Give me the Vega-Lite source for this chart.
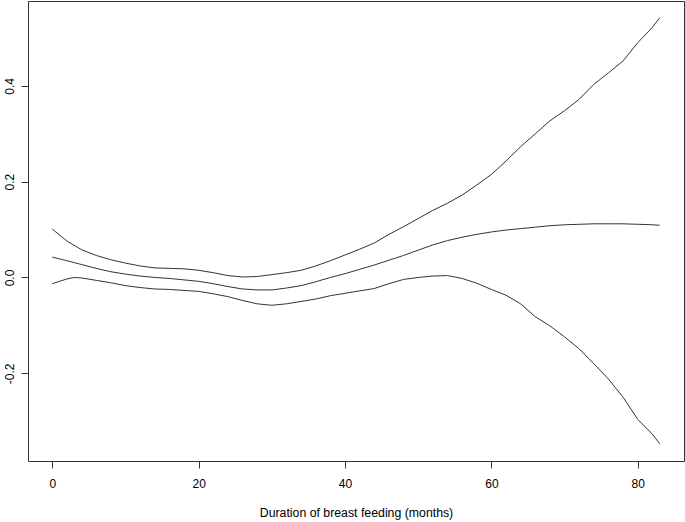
{
  "$schema": "https://vega.github.io/schema/vega-lite/v6.json",
  "width": 656,
  "height": 460,
  "autosize": "none",
  "padding": {"left": 28, "top": 1, "right": 1, "bottom": 61},
  "background": "white",
  "config": {
    "view": {"stroke": "#333", "strokeWidth": 1},
    "font": "Liberation Sans"
  },
  "datasets": {
    "upper": [
      {"month":0,"value":0.101},{"month":2,"value":0.076},{"month":4,"value":0.058},{"month":6,"value":0.046},
      {"month":8,"value":0.037},{"month":10,"value":0.030},{"month":12,"value":0.024},{"month":14,"value":0.020},
      {"month":16,"value":0.019},{"month":18,"value":0.018},{"month":20,"value":0.015},{"month":22,"value":0.010},
      {"month":24,"value":0.004},{"month":26,"value":0.001},{"month":28,"value":0.002},{"month":30,"value":0.006},
      {"month":32,"value":0.010},{"month":34,"value":0.015},{"month":36,"value":0.024},{"month":38,"value":0.035},
      {"month":40,"value":0.047},{"month":42,"value":0.059},{"month":44,"value":0.072},{"month":46,"value":0.090},
      {"month":48,"value":0.106},{"month":50,"value":0.123},{"month":52,"value":0.140},{"month":54,"value":0.155},
      {"month":56,"value":0.172},{"month":58,"value":0.193},{"month":60,"value":0.215},{"month":62,"value":0.243},
      {"month":64,"value":0.273},{"month":66,"value":0.300},{"month":68,"value":0.327},{"month":70,"value":0.348},
      {"month":72,"value":0.372},{"month":74,"value":0.403},{"month":76,"value":0.427},{"month":78,"value":0.452},
      {"month":80,"value":0.490},{"month":82,"value":0.522},{"month":83,"value":0.542}
    ],
    "middle": [
      {"month":0,"value":0.0425},{"month":2,"value":0.035},{"month":4,"value":0.027},{"month":6,"value":0.019},
      {"month":8,"value":0.012},{"month":10,"value":0.007},{"month":12,"value":0.003},{"month":14,"value":0.000},
      {"month":16,"value":-0.002},{"month":18,"value":-0.005},{"month":20,"value":-0.008},{"month":22,"value":-0.013},
      {"month":24,"value":-0.019},{"month":26,"value":-0.024},{"month":28,"value":-0.026},{"month":30,"value":-0.026},
      {"month":32,"value":-0.022},{"month":34,"value":-0.017},{"month":36,"value":-0.009},{"month":38,"value":0.000},
      {"month":40,"value":0.008},{"month":42,"value":0.017},{"month":44,"value":0.026},{"month":46,"value":0.036},
      {"month":48,"value":0.046},{"month":50,"value":0.057},{"month":52,"value":0.068},{"month":54,"value":0.077},
      {"month":56,"value":0.084},{"month":58,"value":0.090},{"month":60,"value":0.095},{"month":62,"value":0.099},
      {"month":64,"value":0.102},{"month":66,"value":0.105},{"month":68,"value":0.108},{"month":70,"value":0.110},
      {"month":72,"value":0.111},{"month":74,"value":0.112},{"month":76,"value":0.112},{"month":78,"value":0.112},
      {"month":80,"value":0.111},{"month":82,"value":0.110},{"month":83,"value":0.109}
    ],
    "lower": [
      {"month":0,"value":-0.013},{"month":2,"value":-0.003},{"month":3,"value":0.000},{"month":4,"value":-0.001},
      {"month":6,"value":-0.006},{"month":8,"value":-0.011},{"month":10,"value":-0.017},{"month":12,"value":-0.021},
      {"month":14,"value":-0.024},{"month":16,"value":-0.025},{"month":18,"value":-0.027},{"month":20,"value":-0.029},
      {"month":22,"value":-0.034},{"month":24,"value":-0.040},{"month":26,"value":-0.048},{"month":28,"value":-0.055},
      {"month":30,"value":-0.058},{"month":32,"value":-0.055},{"month":34,"value":-0.050},{"month":36,"value":-0.045},
      {"month":38,"value":-0.038},{"month":40,"value":-0.033},{"month":42,"value":-0.028},{"month":44,"value":-0.023},
      {"month":46,"value":-0.013},{"month":48,"value":-0.004},{"month":50,"value":0.000},{"month":52,"value":0.003},
      {"month":54,"value":0.004},{"month":56,"value":-0.002},{"month":58,"value":-0.012},{"month":60,"value":-0.025},
      {"month":62,"value":-0.037},{"month":64,"value":-0.055},{"month":66,"value":-0.082},{"month":68,"value":-0.101},
      {"month":70,"value":-0.124},{"month":72,"value":-0.149},{"month":74,"value":-0.180},{"month":76,"value":-0.212},
      {"month":78,"value":-0.250},{"month":80,"value":-0.296},{"month":82,"value":-0.327},{"month":83,"value":-0.347}
    ]
  },
  "encoding": {
    "x": {
      "field": "month", "type": "quantitative",
      "scale": {"domain": [-3.32, 86.32], "nice": false, "zero": false},
      "axis": {
        "title": "Duration of breast feeding (months)",
        "values": [0, 20, 40, 60, 80],
        "domain": false, "grid": false,
        "tickSize": 7, "tickColor": "#333", "tickWidth": 1,
        "labelFont": "Liberation Sans", "labelFontSize": 12, "labelColor": "#000",
        "labelPadding": 10,
        "titleFont": "Liberation Sans", "titleFontSize": 12.3, "titleFontWeight": "normal", "titleColor": "#000",
        "titlePadding": 17
      }
    },
    "y": {
      "field": "value", "type": "quantitative",
      "scale": {"domain": [-0.383, 0.577], "nice": false, "zero": false},
      "axis": {
        "title": null,
        "values": [-0.2, 0, 0.2, 0.4],
        "labelExpr": "replace(format(datum.value, '.1f'), '\u2212', '-')",
        "domain": false, "grid": false,
        "tickSize": 7, "tickColor": "#333", "tickWidth": 1,
        "labelFont": "Liberation Sans", "labelFontSize": 12, "labelColor": "#000",
        "labelAngle": -90, "labelAlign": "center", "labelBaseline": "bottom",
        "labelPadding": 5
      }
    }
  },
  "layer": [
    {"data": {"name": "upper"}, "mark": {"type": "line", "color": "#333", "strokeWidth": 1}},
    {"data": {"name": "middle"}, "mark": {"type": "line", "color": "#333", "strokeWidth": 1}},
    {"data": {"name": "lower"}, "mark": {"type": "line", "color": "#333", "strokeWidth": 1}}
  ]
}
